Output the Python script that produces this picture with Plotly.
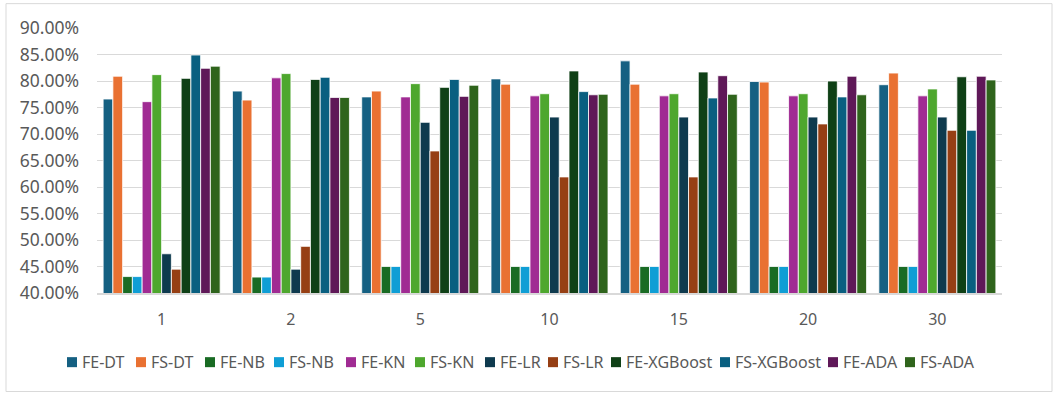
import plotly.graph_objects as go

categories = ["1", "2", "5", "10", "15", "20", "30"]

series_names = ["FE-DT", "FS-DT", "FE-NB", "FS-NB", "FE-KN", "FS-KN",
                "FE-LR", "FS-LR", "FE-XGBoost", "FS-XGBoost", "FE-ADA", "FS-ADA"]

fe_dt = [0.766, 0.781, 0.770, 0.804, 0.838, 0.799, 0.793]
fs_dt = [0.809, 0.764, 0.781, 0.794, 0.794, 0.798, 0.815]
fe_nb = [0.431, 0.430, 0.450, 0.450, 0.450, 0.450, 0.450]
fs_nb = [0.431, 0.430, 0.450, 0.450, 0.450, 0.450, 0.450]
fe_kn = [0.761, 0.806, 0.770, 0.772, 0.772, 0.772, 0.772]
fs_kn = [0.812, 0.814, 0.795, 0.776, 0.776, 0.776, 0.785]
fe_lr = [0.474, 0.445, 0.722, 0.732, 0.732, 0.732, 0.732]
fs_lr = [0.445, 0.488, 0.668, 0.619, 0.619, 0.719, 0.707]
fe_xgb = [0.805, 0.803, 0.788, 0.819, 0.817, 0.800, 0.808]
fs_xgb = [0.849, 0.807, 0.803, 0.780, 0.768, 0.770, 0.707]
fe_ada = [0.824, 0.769, 0.771, 0.774, 0.810, 0.809, 0.809]
fs_ada = [0.828, 0.769, 0.792, 0.775, 0.775, 0.774, 0.802]

series_values = [fe_dt, fs_dt, fe_nb, fs_nb, fe_kn, fs_kn,
                 fe_lr, fs_lr, fe_xgb, fs_xgb, fe_ada, fs_ada]

colors = ["#156082", "#E97132", "#196B24", "#0F9ED5", "#A02B93", "#4EA72E",
          "#0E3A4E", "#963F14", "#0F4016", "#095F80", "#5F1858", "#2F641C"]

# legend swatch left edges (screen pixels), as laid out in the reference
legend_x_px = [67, 136, 205, 274, 346, 415, 485, 548, 611, 720, 828, 905]

fig = go.Figure()
for name, vals, col in zip(series_names, series_values, colors):
    fig.add_trace(go.Bar(
        x=categories, y=vals, name=name, showlegend=False,
        marker=dict(color=col, line=dict(color="white", width=0.8)),
    ))

W, H = 1055, 393
# plot area in screen pixels
sx0, sx1, sy0, sy1 = 97, 1002, 28.3, 292.7
ml, mt = sx0, sy0
mr, mb = W - sx1, H - sy1
pw, ph = W - ml - mr, H - mt - mb

def px2paper_x(px):
    return (px - sx0) / pw

def px2paper_y(py):
    return (sy1 - py) / ph

font_family = "Noto Sans, Open Sans, DejaVu Sans, sans-serif"
grey = "#595959"

# chart border
fig.add_shape(type="rect", xref="paper", yref="paper",
              x0=px2paper_x(6), x1=px2paper_x(1052),
              y0=px2paper_y(391), y1=px2paper_y(4),
              line=dict(color="#D9D9D9", width=1), fillcolor="rgba(0,0,0,0)",
              layer="below")

# legend (swatch + label)
for name, col, lx in zip(series_names, colors, legend_x_px):
    fig.add_shape(type="rect", xref="paper", yref="paper",
                  x0=px2paper_x(lx), x1=px2paper_x(lx + 10),
                  y0=px2paper_y(366.7), y1=px2paper_y(356.7),
                  line=dict(width=0), fillcolor=col)
    fig.add_annotation(xref="paper", yref="paper",
                       x=px2paper_x(lx + 14), y=px2paper_y(361.5),
                       xanchor="left", yanchor="middle", showarrow=False,
                       borderpad=0,
                       text=name, font=dict(family=font_family, size=16, color=grey))

fig.update_layout(
    width=W, height=H,
    margin=dict(l=ml, r=mr, t=mt, b=mb, autoexpand=False),
    paper_bgcolor="white", plot_bgcolor="white",
    barmode="group", bargap=0.095, bargroupgap=0,
    font=dict(family=font_family, size=15, color=grey),
    showlegend=False,
    xaxis=dict(type="category", showgrid=False, showline=True,
               linecolor="#D9D9D9", linewidth=1.5, ticks="",
               ticklabelstandoff=11,
               tickfont=dict(size=16, color=grey)),
    yaxis=dict(range=[0.40, 0.90], dtick=0.05, tickformat=".2%",
               showgrid=True, gridcolor="#D9D9D9", gridwidth=1,
               zeroline=False, showline=False, ticks="",
               ticklabelstandoff=17,
               tickfont=dict(size=17.5, color=grey)),
)

fig.write_html("out.html",
               config={"displayModeBar": False},
               post_script="document.body.style.margin='0';document.body.style.overflow='hidden';")
